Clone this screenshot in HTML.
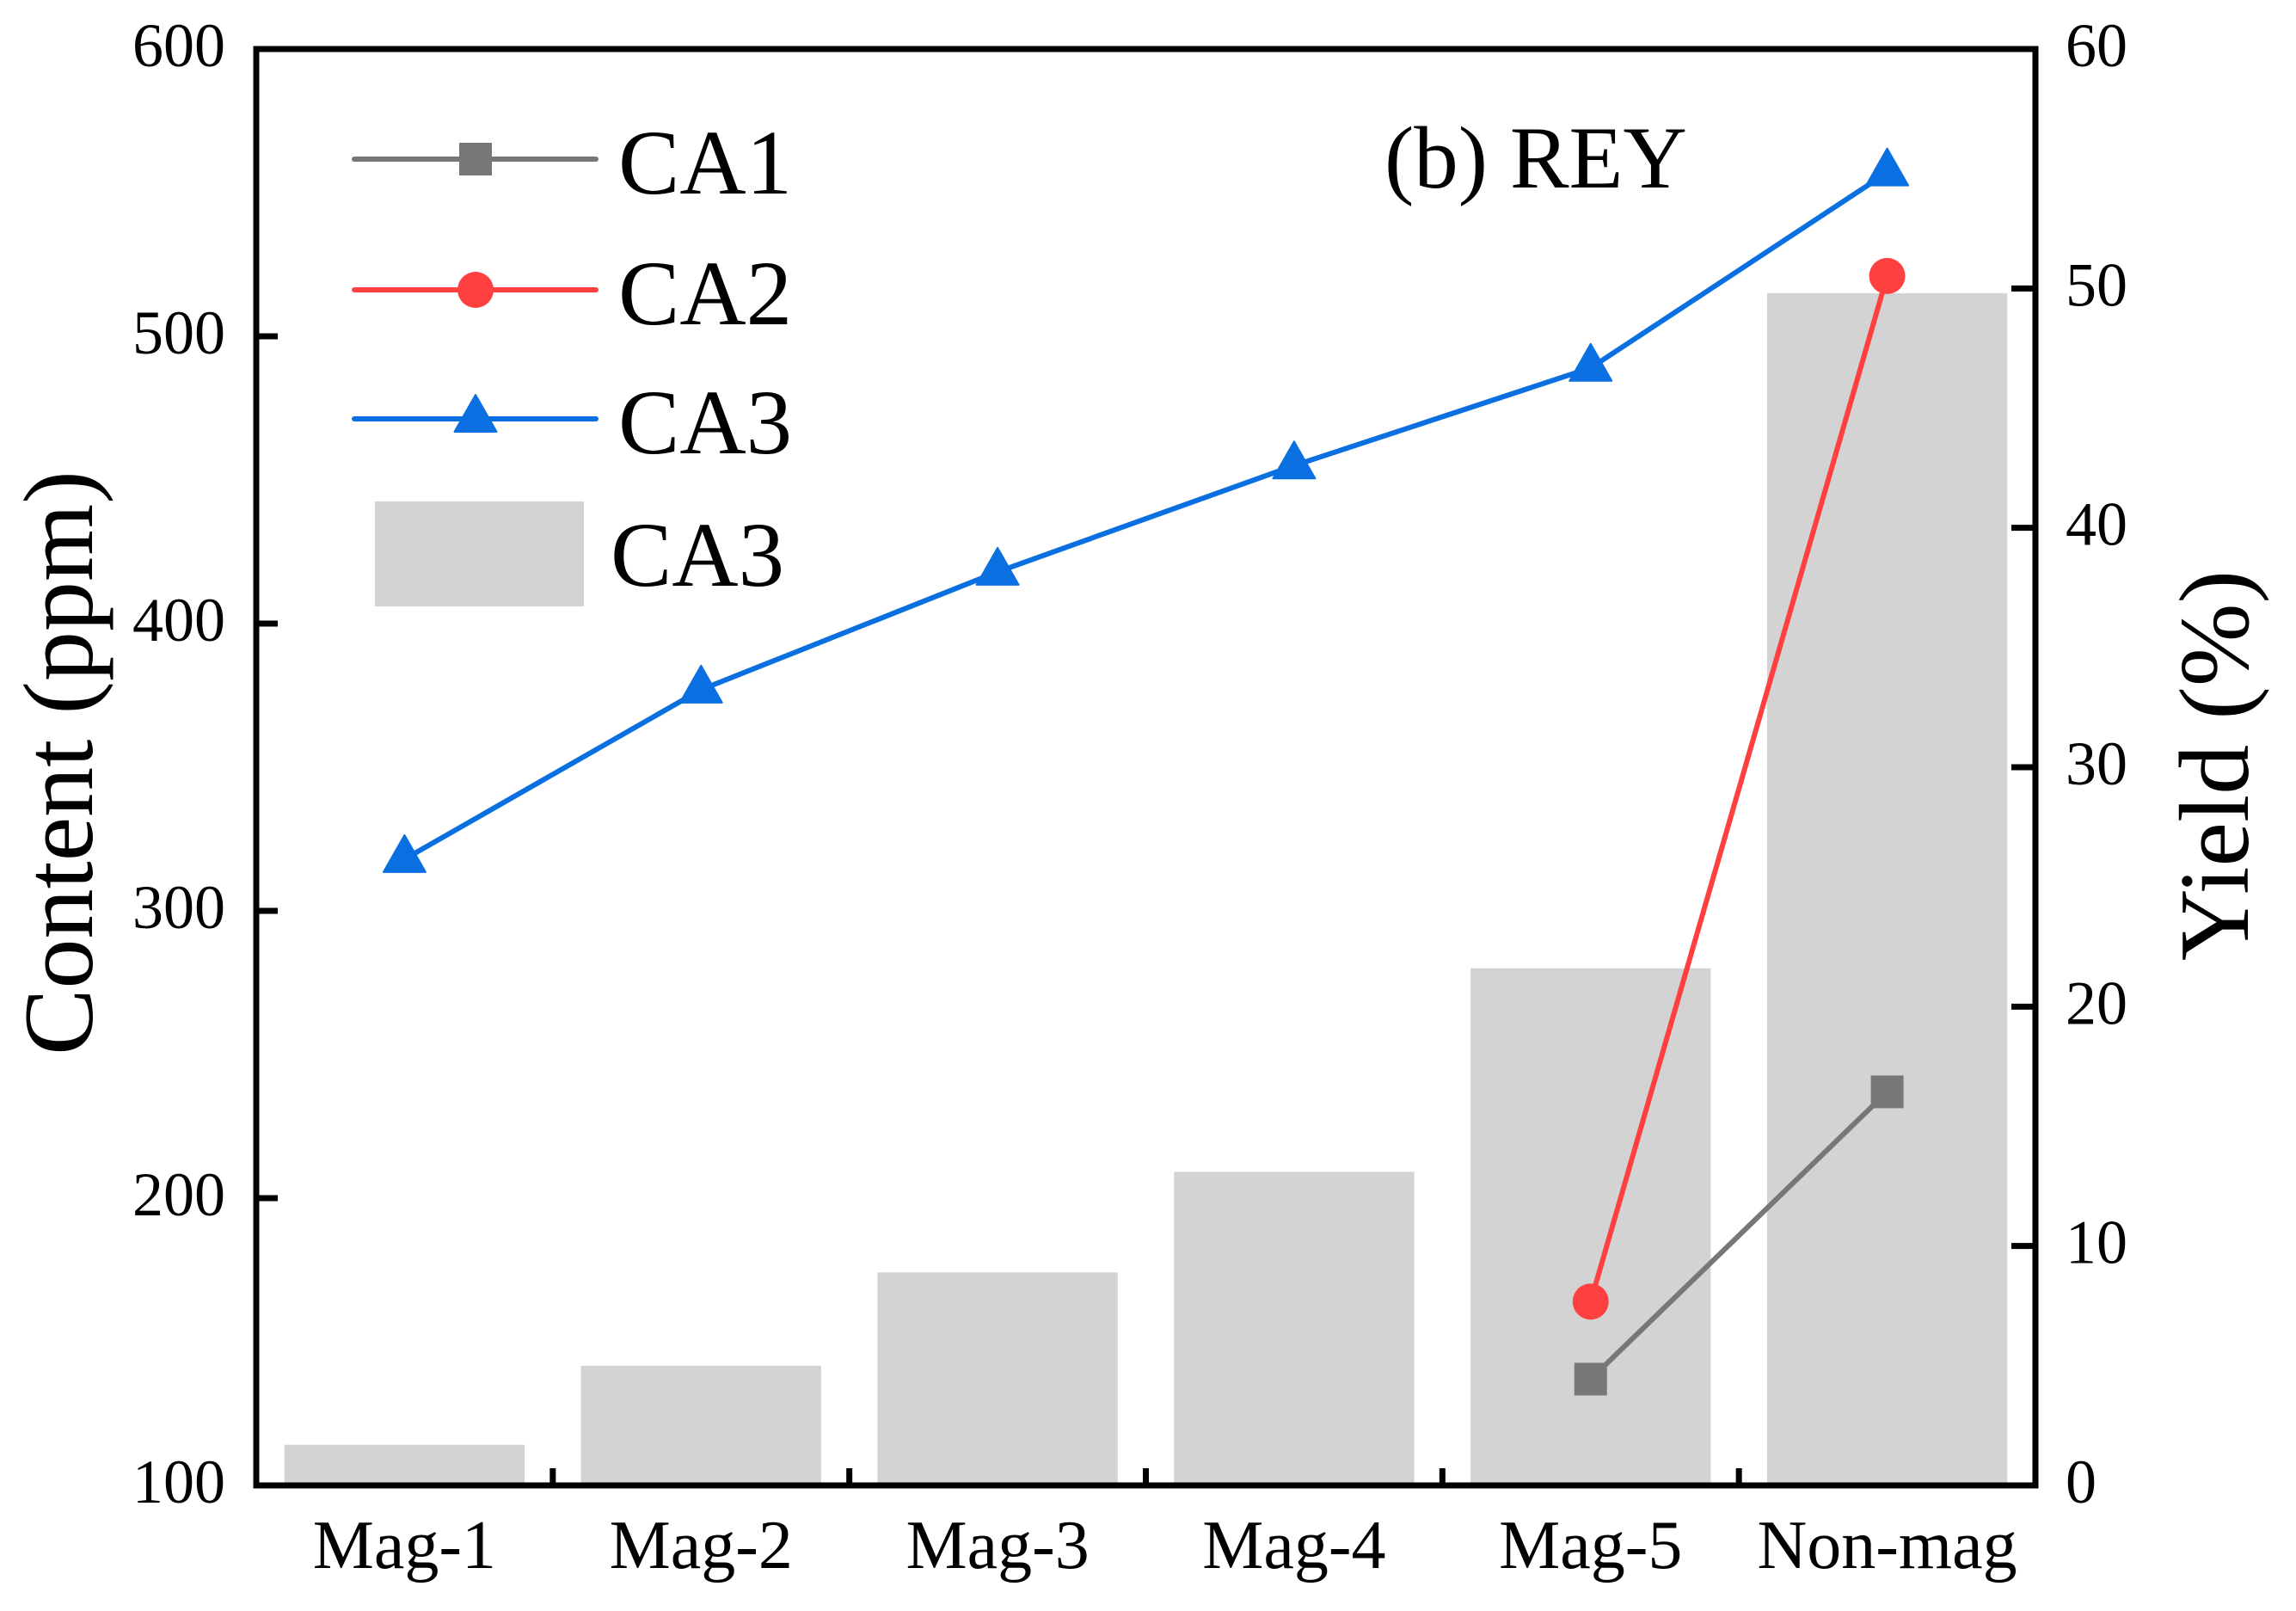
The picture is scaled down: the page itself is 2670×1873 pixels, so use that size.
<!DOCTYPE html>
<html><head><meta charset="utf-8"><style>
html,body{margin:0;padding:0;background:#fff;}
svg{display:block;}
text{font-family:"Liberation Serif",serif;fill:#000;}
</style></head><body>
<svg id="chart" width="2670" height="1873" viewBox="0 0 2670 1873" xmlns="http://www.w3.org/2000/svg">
<g id="bars"></g>
<g id="lines"></g>
<g id="axes"></g>
<g id="legend"></g>
<text x="1610" y="218" font-size="103">(b) REY</text>
<text transform="translate(107,887) rotate(-90)" text-anchor="middle" font-size="116">Content (ppm)</text>
<text transform="translate(2614,890) rotate(-90)" text-anchor="middle" font-size="116">Yield (%)</text>
</svg>
<script>
const categories = ["Mag-1","Mag-2","Mag-3","Mag-4","Mag-5","Non-mag"];
const yieldCA3 = [1.7, 5.0, 8.9, 13.1, 21.6, 49.8];
const contentCA1 = [null, null, null, null, 137, 237];
const contentCA2 = [null, null, null, null, 164, 521];
const contentCA3 = [318, 377, 418, 455, 489, 557];
const leftTicks = [100,200,300,400,500,600];
const rightTicks = [0,10,20,30,40,50,60];

const NS="http://www.w3.org/2000/svg";
const X0=298, X1=2367, Y0=1727, Y1=57;
const catW=(X1-X0)/categories.length;
function xc(i){return X0+catW*(i+0.5);}
function yL(v){return Y0-(v-100)/500*(Y0-Y1);}
function yR(v){return Y0-v/60*(Y0-Y1);}
function mk(tag,attrs,parent){const e=document.createElementNS(NS,tag);for(const k in attrs)e.setAttribute(k,attrs[k]);parent.appendChild(e);return e;}

const bars=document.getElementById('bars');
const bw=catW*0.81;
yieldCA3.forEach((v,i)=>{
  const r=mk('rect',{x:xc(i)-bw/2,y:yR(v),width:bw,height:Y0-yR(v),fill:'#d3d3d3'},bars);
  
  
});

const lines=document.getElementById('lines');
function series(vals,color,shape,name){
  const pts=[];vals.forEach((v,i)=>{if(v!==null)pts.push([xc(i),yL(v)]);});
  const pl=mk('polyline',{points:pts.map(p=>p.join(',')).join(' '),fill:'none',stroke:color,'stroke-width':6},lines);
  
  
  pts.forEach(p=>{const m=marker(shape,p[0],p[1],color,lines);
    
    });
}
function marker(shape,x,y,color,parent){
  if(shape==='sq')return mk('rect',{x:x-19,y:y-19,width:38,height:38,fill:color},parent);
  if(shape==='ci')return mk('circle',{cx:x,cy:y,r:21,fill:color},parent);
  return mk('polygon',{points:`${x},${y-28} ${x-24.5},${y+15} ${x+24.5},${y+15}`,fill:color,'stroke':color,'stroke-width':2,'stroke-linejoin':'round'},parent);
}
series(contentCA3,'#0a6fe0','tr','ca3');
series(contentCA2,'#ff4040','ci','ca2');
series(contentCA1,'#777777','sq','ca1');

const axes=document.getElementById('axes');
const frame=mk('rect',{x:X0,y:Y1,width:X1-X0,height:Y0-Y1,fill:'none',stroke:'#000','stroke-width':7},axes);


leftTicks.forEach(v=>{
  const y=yL(v);
  mk('line',{x1:X0,y1:y,x2:X0+25,y2:y,stroke:'#000','stroke-width':7},axes);
  const t=mk('text',{x:262,y:y-4,'text-anchor':'end','dominant-baseline':'central','font-size':72},axes);
  t.textContent=v;
  
  
});
rightTicks.forEach(v=>{
  const y=yR(v);
  mk('line',{x1:X1,y1:y,x2:X1-28,y2:y,stroke:'#000','stroke-width':7},axes);
  const t=mk('text',{x:2402,y:y-4,'dominant-baseline':'central','font-size':72},axes);
  t.textContent=v;
  
  
});
for(let i=1;i<categories.length;i++){
  const x=X0+catW*i;
  mk('line',{x1:x,y1:Y0,x2:x,y2:Y0-20,stroke:'#000','stroke-width':7},axes);
}
categories.forEach((c,i)=>{
  const t=mk('text',{x:xc(i),y:1823,'text-anchor':'middle','font-size':80},axes);
  t.textContent=c;
  
  
});

const lg=document.getElementById('legend');
const legendItems=[['CA1','#777777','sq',185],['CA2','#ff4040','ci',337],['CA3','#0a6fe0','tr',487]];
legendItems.forEach(it=>{
  const l=mk('line',{x1:412,y1:it[3],x2:693,y2:it[3],stroke:it[1],'stroke-width':6,'stroke-linecap':'round'},lg);
  
  
  marker(it[2],553,it[3],it[1],lg);
  const t=mk('text',{x:719,y:it[3]+40,'font-size':107},lg);
  t.textContent=it[0];
  
  
});
const lb=mk('rect',{x:436,y:583,width:243,height:122,fill:'#d3d3d3'},lg);


const lt=mk('text',{x:710,y:681,'font-size':107},lg);
lt.textContent='CA3';


</script>
</body></html>
